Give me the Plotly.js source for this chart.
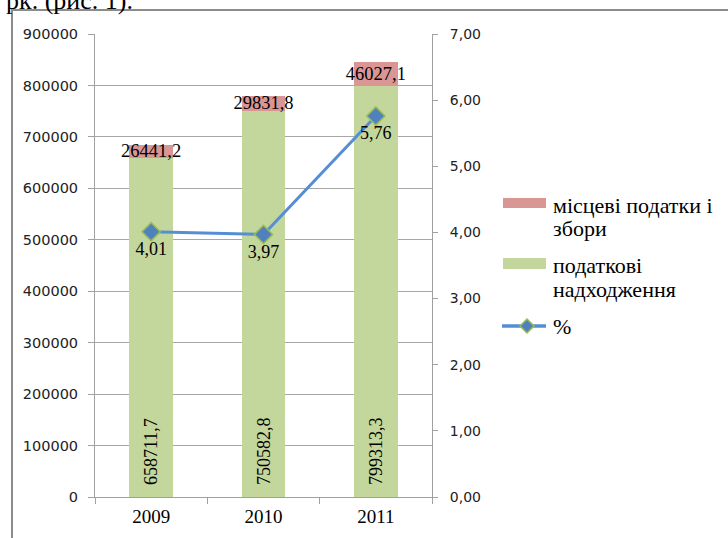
<!DOCTYPE html>
<html><head><meta charset="utf-8">
<script src="https://cdn.plot.ly/plotly-3.0.1.min.js"></script>
<style>html,body{margin:0;padding:0;background:#fff}#chart{width:728px;height:538px}</style>
</head><body><div id="chart"></div>
<script>
const years = ['2009', '2010', '2011'];
const taxRevenue = [658711.7, 750582.8, 799313.3];
const localTaxes = [26441.2, 29831.8, 46027.1];
const percent = [4.01, 3.97, 5.76];
const seriesNames = ['місцеві податки і\nзбори', 'податкові\nнадходження', '%'];
const leftTicks = [0, 100000, 200000, 300000, 400000, 500000, 600000, 700000, 800000, 900000];
const rightTicks = [0, 1, 2, 3, 4, 5, 6, 7];

const fmt1 = v => v.toFixed(1).replace('.', ',');
const fmt2 = v => v.toFixed(2).replace('.', ',');
const serif = 'Liberation Serif';
const sans = 'DejaVu Sans';
const RED = '#d99694', GREEN = '#c3d69b', BLUE = '#558ed5';

const traces = [
  {
    type: 'bar', x: years, y: taxRevenue, name: seriesNames[1],
    marker: {color: GREEN},
    text: taxRevenue.map(v => '\u00a0\u00a0' + fmt1(v)), textposition: 'inside',
    insidetextanchor: 'start', textangle: -90, constraintext: 'none',
    textfont: {family: serif, size: 18, color: '#000'}, hoverinfo: 'none'
  },
  {
    type: 'bar', x: years, y: localTaxes, name: seriesNames[0],
    marker: {color: RED},
    text: localTaxes.map(fmt1), textposition: 'inside', insidetextanchor: 'middle',
    textangle: 0, constraintext: 'none', cliponaxis: false,
    textfont: {family: serif, size: 18.5, color: '#000'}, hoverinfo: 'none'
  },
  {
    type: 'scatter', mode: 'lines+markers+text', x: years, y: percent, yaxis: 'y2',
    name: seriesNames[2],
    line: {color: BLUE, width: 3},
    marker: {symbol: 'diamond', size: 14, color: '#4f81bd', line: {color: '#9bbb59', width: 1.5}},
    text: percent.map(fmt2), textposition: 'bottom center',
    textfont: {family: serif, size: 18, color: '#000'}, hoverinfo: 'none', cliponaxis: false
  }
];

// custom legend (pixel -> paper helpers)
const PL = 95, PW = 337, PB = 497, PH = 463;
const px = x => (x - PL) / PW;
const py = y => (PB - y) / PH;

const shapes = [
  {type: 'rect', xref: 'paper', yref: 'paper', x0: px(12), x1: px(760), y0: py(560), y1: py(10),
   line: {color: '#8c8c8c', width: 2}, fillcolor: 'rgba(0,0,0,0)', layer: 'below'},
  {type: 'rect', xref: 'paper', yref: 'paper', x0: px(503), x1: px(546), y0: py(208), y1: py(198),
   line: {width: 0}, fillcolor: RED},
  {type: 'rect', xref: 'paper', yref: 'paper', x0: px(503), x1: px(546), y0: py(269), y1: py(258),
   line: {width: 0}, fillcolor: GREEN},
  {type: 'line', xref: 'paper', yref: 'paper', x0: px(502), x1: px(546), y0: py(326), y1: py(326),
   line: {color: BLUE, width: 3.5}},
  {type: 'path', xref: 'paper', yref: 'paper',
   path: `M ${px(520)} ${py(326)} L ${px(527)} ${py(319)} L ${px(534)} ${py(326)} L ${px(527)} ${py(333)} Z`,
   fillcolor: '#4f81bd', line: {color: '#9bbb59', width: 1.5}}
];

const legendLines = [
  [seriesNames[0].split('\n'), [205.4, 228.4]],
  [seriesNames[1].split('\n'), [265.4, 289.4]],
  [seriesNames[2].split('\n'), [326.4]]
];
const annotations = [
  {xref: 'paper', yref: 'paper', x: px(4), y: py(17), xanchor: 'left', yanchor: 'bottom',
   text: 'рк. (рис. 1).', showarrow: false, font: {family: serif, size: 26, color: '#000'}}
];
legendLines.forEach(([lines, ys]) => lines.forEach((t, i) => annotations.push({
  xref: 'paper', yref: 'paper', x: px(551), y: py(ys[i]), xanchor: 'left', yanchor: 'middle',
  text: t, showarrow: false, font: {family: serif, size: 22, color: '#000'}
})));

const layout = {
  width: 728, height: 538,
  margin: {l: PL, r: 728 - PL - PW, t: 34, b: 538 - PB, pad: 0},
  paper_bgcolor: '#fff', plot_bgcolor: '#fff',
  barmode: 'stack', bargap: 0.61,
  showlegend: false,
  xaxis: {
    type: 'category', showgrid: false, showline: true, linecolor: '#a0a0a0', linewidth: 1,
    ticks: 'outside', ticklen: 6, tickcolor: '#a0a0a0', tickson: 'boundaries',
    tickfont: {family: serif, size: 19, color: '#000'}, zeroline: false, ticklabelstandoff: 2
  },
  yaxis: {
    range: [0, 900000], tickvals: leftTicks, ticktext: leftTicks.map(String),
    showgrid: true, gridcolor: '#a6a6a6', gridwidth: 1,
    showline: true, linecolor: '#a0a0a0', ticks: 'outside', ticklen: 6, tickcolor: '#a0a0a0',
    tickfont: {family: sans, size: 14.5, color: '#222'}, zeroline: false, ticklabelstandoff: 7
  },
  yaxis2: {
    range: [0, 7], tickvals: rightTicks, ticktext: rightTicks.map(fmt2),
    overlaying: 'y', side: 'right', showgrid: false,
    showline: true, linecolor: '#a0a0a0', ticks: 'outside', ticklen: 5, tickcolor: '#a0a0a0',
    tickfont: {family: sans, size: 14, color: '#222'}, zeroline: false, ticklabelstandoff: 9
  },
  shapes: shapes,
  annotations: annotations
};

Plotly.newPlot('chart', traces, layout, {displayModeBar: false, staticPlot: true});
</script>
</body></html>
